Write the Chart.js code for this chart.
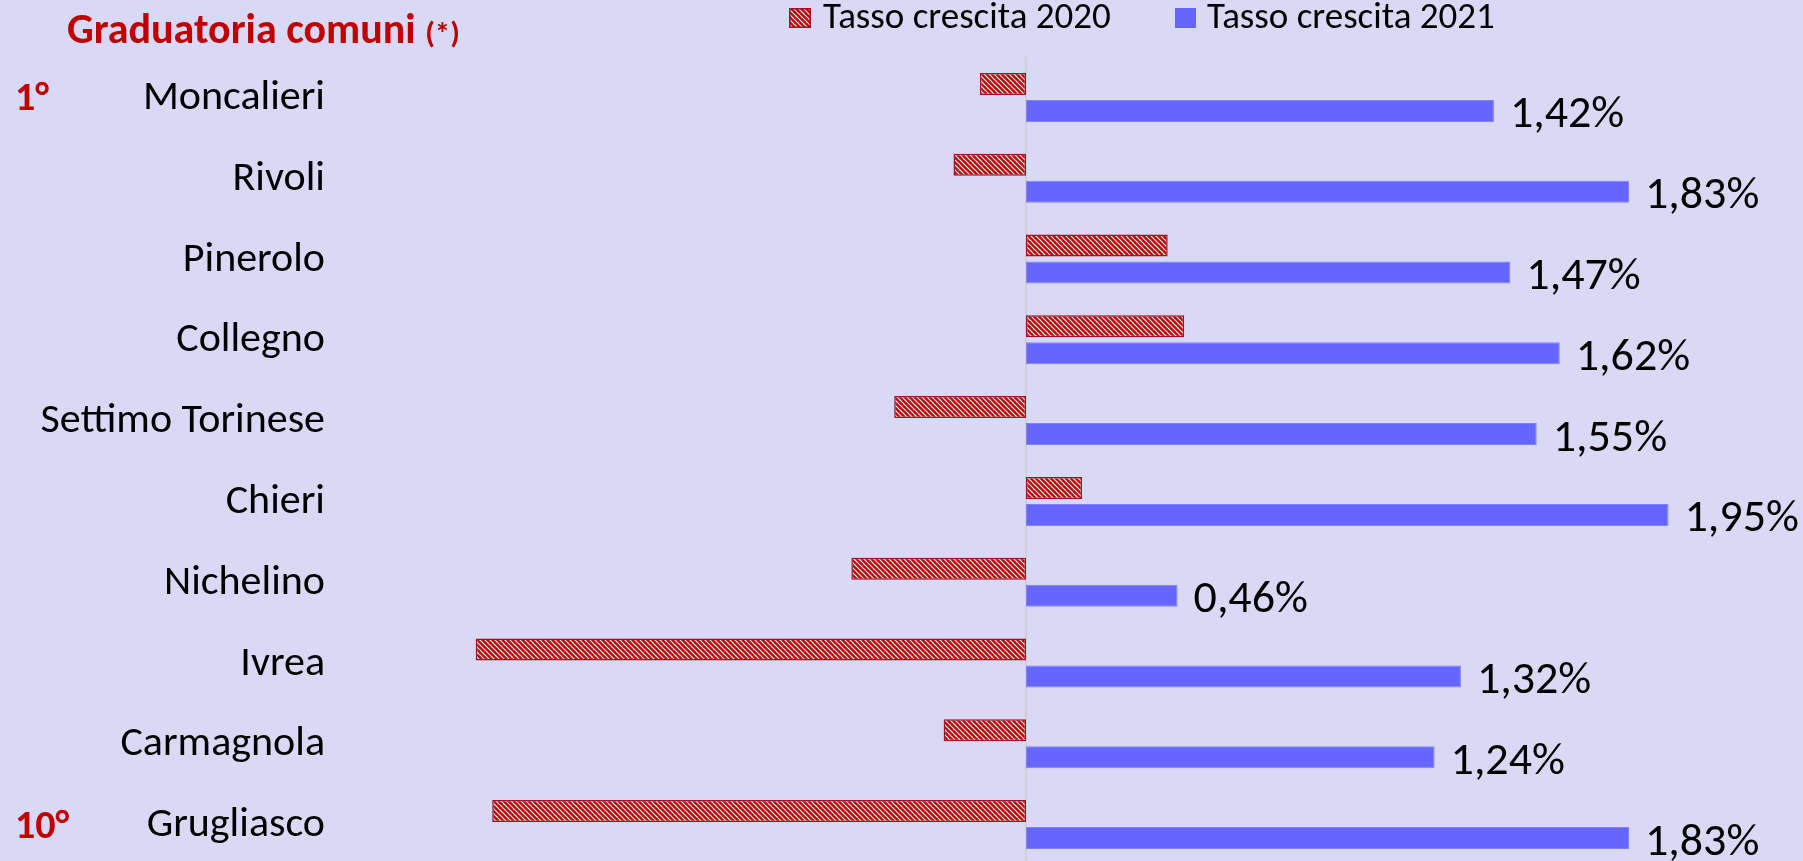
<!DOCTYPE html>
<html>
<head>
<meta charset="utf-8">
<script src="https://cdn.jsdelivr.net/npm/chart.js@4"></script>
<style>
  html, body { margin: 0; padding: 0; overflow: hidden; background: #d9d8f5; }
  #box { position: relative; width: 1803px; height: 880px; }
</style>
</head>
<body>
<div id="box"><canvas id="myChart"></canvas></div>
<script>
const comuni = ["Moncalieri", "Rivoli", "Pinerolo", "Collegno", "Settimo Torinese",
  "Chieri", "Nichelino", "Ivrea", "Carmagnola", "Grugliasco"];
const tasso2020 = [-0.14, -0.22, 0.43, 0.48, -0.40, 0.17, -0.53, -1.67, -0.25, -1.62];
const tasso2021 = [1.42, 1.83, 1.47, 1.62, 1.55, 1.95, 0.46, 1.32, 1.24, 1.83];
const nomiSerie = ["Tasso crescita 2020", "Tasso crescita 2021"];
const posizioni = ["1°", "10°"];

const FONT = "Carlito, Lato, sans-serif";
const bg = "#d9d8f5";
const rosso = "#c00000";
const blu = "#6666ff";

// tratteggio bianco/rosso per il 2020
function hatch() {
  const c = document.createElement("canvas");
  c.width = 5; c.height = 5;
  const x = c.getContext("2d");
  x.fillStyle = rosso;
  x.fillRect(0, 0, 5, 5);
  x.strokeStyle = "#ffffff";
  x.lineWidth = 1.2;
  x.beginPath();
  for (const k of [-5, 0, 5]) {
    x.moveTo(k - 1, -1);
    x.lineTo(k + 6, 6);
  }
  x.stroke();
  return x.createPattern(c, "repeat");
}
const pattern = hatch();

const fmt = v => v.toFixed(2).replace(".", ",") + "%";

const extras = {
  id: "extras",
  beforeDraw(chart) {
    const ctx = chart.ctx;
    ctx.save();
    ctx.fillStyle = bg;
    ctx.fillRect(0, 0, chart.width, chart.height);
    ctx.restore();
  },
  beforeDatasetsDraw(chart) {
    const ctx = chart.ctx;
    const a = chart.chartArea;
    const x0 = Math.round(chart.scales.x.getPixelForValue(0));
    ctx.save();
    ctx.strokeStyle = "#cfcfd8";
    ctx.lineWidth = 2;
    ctx.beginPath();
    ctx.moveTo(x0, a.top);
    ctx.lineTo(x0, a.bottom);
    ctx.stroke();
    ctx.restore();
  },
  afterDatasetsDraw(chart) {
    const ctx = chart.ctx;
    const meta = chart.getDatasetMeta(1);
    ctx.save();
    ctx.fillStyle = "#000";
    ctx.font = "46px " + FONT;
    ctx.textAlign = "left";
    ctx.textBaseline = "middle";
    meta.data.forEach((bar, i) => {
      ctx.fillText(fmt(tasso2021[i]), bar.x + 16, bar.y + 5);
    });
    ctx.restore();
  },
  afterDraw(chart) {
    const ctx = chart.ctx;
    const y = chart.scales.y;
    const a = chart.chartArea;
    ctx.save();
    // nomi dei comuni
    ctx.fillStyle = "#000";
    ctx.font = "42px " + FONT;
    ctx.textAlign = "right";
    ctx.textBaseline = "middle";
    comuni.forEach((c, i) => {
      ctx.fillText(c, a.left - 42, y.getPixelForValue(i) + 1);
    });
    // titolo
    ctx.fillStyle = rosso;
    ctx.textBaseline = "alphabetic";
    ctx.textAlign = "left";
    ctx.font = "bold 42px " + FONT;
    ctx.fillText("Graduatoria comuni", 67, 43);
    const w = ctx.measureText("Graduatoria comuni ").width;
    ctx.font = "bold 31px " + FONT;
    ctx.fillText("(*)", 67 + w, 43);
    // posizioni in graduatoria
    ctx.font = "bold 40px " + FONT;
    ctx.textBaseline = "middle";
    ctx.fillText(posizioni[0], 15, y.getPixelForValue(0) + 3);
    ctx.fillText(posizioni[1], 15, y.getPixelForValue(comuni.length - 1) + 3);
    // legenda
    ctx.fillStyle = pattern;
    ctx.fillRect(789, 8, 22, 20);
    ctx.strokeStyle = "#a0102a";
    ctx.lineWidth = 1.5;
    ctx.strokeRect(789.75, 8.75, 20.5, 18.5);
    ctx.fillStyle = blu;
    ctx.fillRect(1175, 8, 21, 20);
    ctx.fillStyle = "#000";
    ctx.font = "37px " + FONT;
    ctx.textBaseline = "alphabetic";
    ctx.fillText(nomiSerie[0], 823, 28);
    ctx.fillText(nomiSerie[1], 1207, 28);
    ctx.restore();
  }
};

new Chart("myChart", {
  type: "bar",
  data: {
    labels: comuni,
    datasets: [{
      label: nomiSerie[0],
      data: tasso2020,
      backgroundColor: pattern,
      borderColor: "#a0102a",
      borderWidth: 1.5,
      borderSkipped: false,
      categoryPercentage: 0.668,
      barPercentage: 0.815
    }, {
      label: nomiSerie[1],
      data: tasso2021,
      backgroundColor: blu,
      borderColor: "#8080ff",
      borderWidth: 1,
      borderSkipped: false,
      categoryPercentage: 0.668,
      barPercentage: 0.815
    }]
  },
  options: {
    indexAxis: "y",
    responsive: true,
    maintainAspectRatio: false,
    devicePixelRatio: 1,
    animation: false,
    layout: { padding: { left: 367, right: 118, top: 57, bottom: 15 } },
    plugins: {
      legend: { display: false },
      title: { display: false },
      tooltip: { enabled: false }
    },
    scales: {
      x: {
        display: false,
        min: -2,
        max: 2
      },
      y: {
        display: false
      }
    }
  },
  plugins: [extras]
});
</script>
</body>
</html>
